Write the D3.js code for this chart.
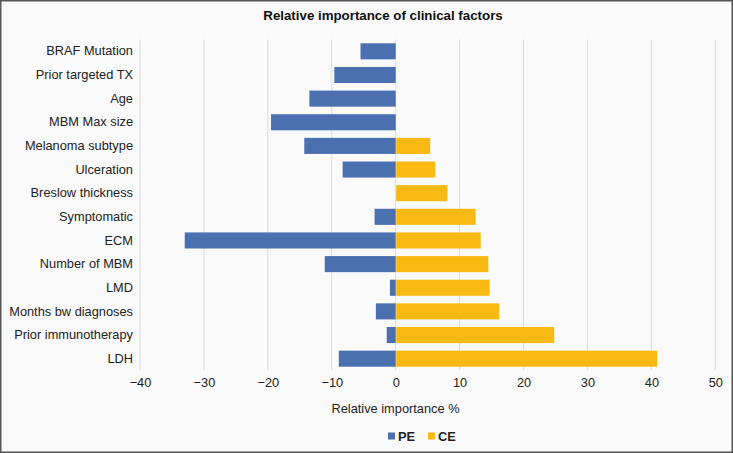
<!DOCTYPE html>
<html><head><meta charset="utf-8">
<script src="https://cdn.jsdelivr.net/npm/d3@7"></script>
<style>html,body{margin:0;padding:0;background:#fafafa;}svg{display:block;}</style>
</head><body>
<script>
const categories = ["BRAF Mutation","Prior targeted TX","Age","MBM Max size","Melanoma subtype","Ulceration","Breslow thickness","Symptomatic","ECM","Number of MBM","LMD","Months bw diagnoses","Prior immunotherapy","LDH"];
const peValues = [-5.5,-9.6,-13.5,-19.5,-14.3,-8.3,0,-3.3,-33.0,-11.1,-0.9,-3.1,-1.4,-8.9];
const ceValues = [0,0,0,0,5.4,6.2,8.1,12.5,13.3,14.5,14.7,16.2,24.8,40.9];
const xTicks = [-40,-30,-20,-10,0,10,20,30,40,50];
const seriesNames = ["PE","CE"];
const colors = {PE:"#4a70b0", CE:"#f8b913"};

const W=733,H=453;
const svg=d3.select("body").append("svg").attr("width",W).attr("height",H);
svg.append("rect").attr("x",0.75).attr("y",0.75).attr("width",W-1.5).attr("height",H-1.5)
  .attr("fill","#fafafa").attr("stroke","#555").attr("stroke-width",1.5);

const font="Liberation Sans, Arial, sans-serif";
const fs=12.8;
const x=d3.scaleLinear().domain([-40,50]).range([140,715.3]);
const y=d3.scaleBand().domain(categories).range([39.5,370.5]).paddingInner(0.32).paddingOuter(0.16);

// gridlines
svg.append("g").selectAll("line").data(xTicks).join("line")
  .attr("x1",d=>x(d)).attr("x2",d=>x(d)).attr("y1",39.5).attr("y2",370)
  .attr("stroke","#dcdcdc").attr("stroke-width",1);

// bars
const rows=categories.map((c,i)=>({c,pe:peValues[i],ce:ceValues[i]}));
svg.append("g").selectAll("rect").data(rows.filter(d=>d.pe!==0)).join("rect")
  .attr("x",d=>x(d.pe)).attr("width",d=>x(0)-x(d.pe))
  .attr("y",d=>y(d.c)).attr("height",y.bandwidth()).attr("fill",colors.PE);
svg.append("g").selectAll("rect").data(rows.filter(d=>d.ce!==0)).join("rect")
  .attr("x",x(0)+0.5).attr("width",d=>x(d.ce)-x(0)-0.5)
  .attr("y",d=>y(d.c)).attr("height",y.bandwidth()).attr("fill",colors.CE);

// x axis
const xa=svg.append("g").attr("transform","translate(0,370)")
  .call(d3.axisBottom(x).tickValues(xTicks).tickSize(0).tickPadding(8).tickFormat(d=>d<0?"\u2212"+Math.abs(d):d));
xa.select(".domain").remove();
xa.selectAll("text").attr("font-family",font).attr("font-size",fs).attr("fill","#222");

// y axis labels
const ya=svg.append("g").attr("transform","translate(139,0)")
  .call(d3.axisLeft(y).tickSize(0).tickPadding(6));
ya.select(".domain").remove();
ya.selectAll("text").attr("font-family",font).attr("font-size",fs).attr("fill","#222");

// title
svg.append("text").attr("x",383).attr("y",19.5).attr("text-anchor","middle")
  .attr("font-family",font).attr("font-size",13.3).attr("font-weight","bold").attr("fill","#111")
  .text("Relative importance of clinical factors");
// axis title
svg.append("text").attr("x",395.5).attr("y",412.5).attr("text-anchor","middle")
  .attr("font-family",font).attr("font-size",fs).attr("fill","#222")
  .text("Relative importance %");
// legend
const lg=svg.append("g");
const lx=[388,428];
seriesNames.forEach((s,i)=>{
  lg.append("rect").attr("x",lx[i]).attr("y",432.5).attr("width",7).attr("height",7).attr("fill",colors[s]);
  lg.append("text").attr("x",lx[i]+10).attr("y",440.5).attr("font-family",font).attr("font-size",fs)
    .attr("font-weight","bold").attr("fill","#222").text(s);
});
</script>
</body></html>
